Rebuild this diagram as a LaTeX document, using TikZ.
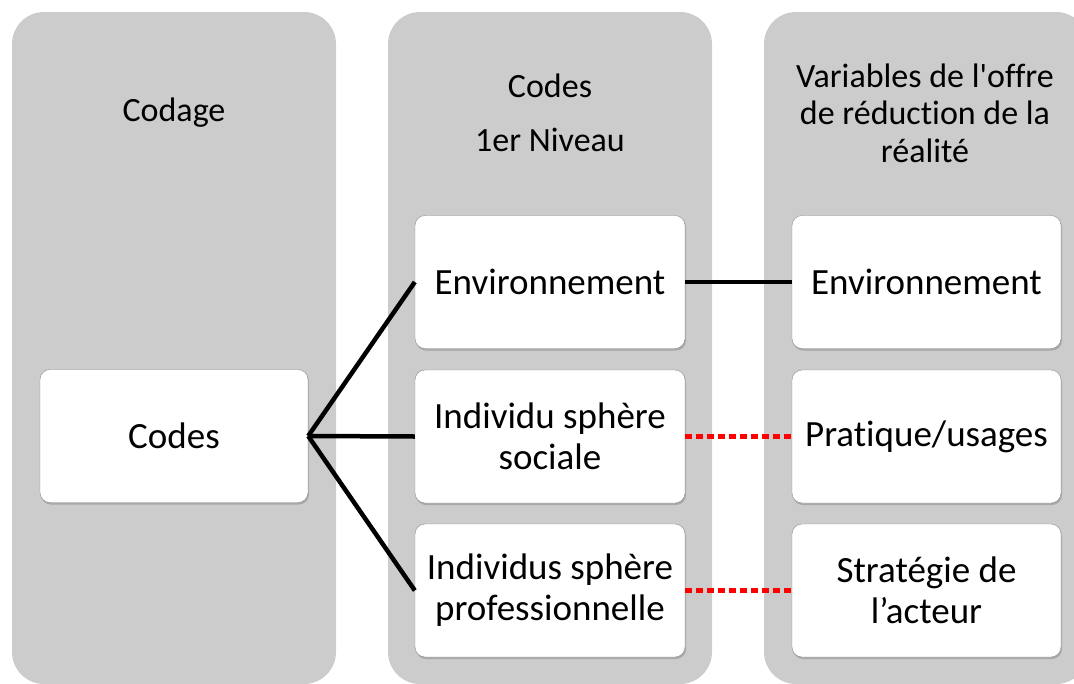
\documentclass[tikz,border=0pt]{standalone}
\usepackage{fontspec}
\setmainfont{Carlito}[Ligatures={TeXOff,NoCommon}]
\usetikzlibrary{positioning, shadows}

\begin{document}
\begin{tikzpicture}[
    x=1pt, y=-1pt,
    every node/.style={font=\fontsize{37}{41}\selectfont},
    column/.style={fill=black!20, rounded corners=32pt, minimum width=324pt, minimum height=672pt, inner sep=0pt},
    head/.style={align=center, inner sep=0pt, font=\fontsize{34}{37.5}\selectfont},
    box/.style={draw=black!45, fill=white, rounded corners=10pt, minimum height=133pt, align=center, inner sep=2pt,
        drop shadow={shadow xshift=1pt, shadow yshift=-2pt, opacity=0.35, fill=black!60}},
    link/.style={line width=4.5pt, black},
    weak/.style={line width=4.5pt, red, dash pattern=on 7pt off 4pt},
]
\useasboundingbox (0,0) rectangle (1074,683);

% ── Columns ──
\node[column] (colA) at (174, 348) {};
\node[column] (colB) at (550, 348) {};
\node[column] (colC) at (926, 348) {};

% ── Column headings ──
\node[head] (hA) at (174, 113) {Codage};
\node[head] (hB) at (550, 113) {Codes\\[16pt]1er Niveau};
\node[head] (hC) at (925, 113) {Variables de l'offre\\de réduction de la\\réalité};

% ── Boxes ──
\node[box, minimum width=268pt] (codes) at (174, 436) {Codes};

\node[box, minimum width=270pt] (envB) at (550, 282) {Environnement};
\node[box, minimum width=270pt] (soc) at (550, 436.5) {Individu sphère\\sociale};
\node[box, minimum width=270pt] (pro) at (550, 590.5) {Individus sphère\\professionnelle};

\node[box, minimum width=269pt] (envC) at (926.5, 282) {Environnement};
\node[box, minimum width=269pt] (prat) at (926.5, 436.5) {Pratique/usages};
\node[box, minimum width=269pt] (strat) at (926.5, 590.5) {Stratégie de\\l’acteur};

% ── Connectors ──
\draw[link] (codes.east) -- (envB.west);
\draw[link] (codes.east) -- (soc.west);
\draw[link] (codes.east) -- (pro.west);
\draw[link] (envB) -- (envC);
\draw[weak] (soc) -- (prat);
\draw[weak] (pro) -- (strat);

\end{tikzpicture}
\end{document}
